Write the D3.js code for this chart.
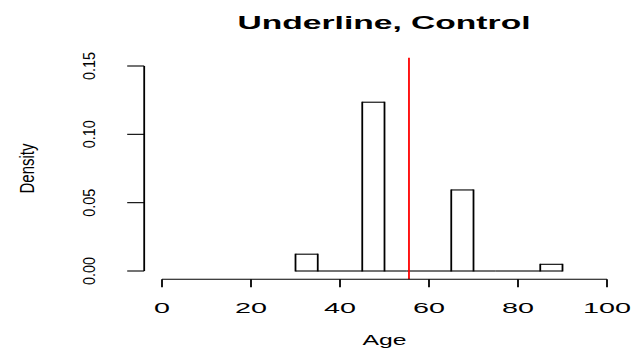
<!DOCTYPE html>
<html>
<head>
<meta charset="utf-8">
<script src="https://cdn.jsdelivr.net/npm/d3@7.9.0/dist/d3.min.js"></script>
<style>
  html, body { margin: 0; padding: 0; background: #fff; }
  text { font-family: "Liberation Sans", Arial, Helvetica, sans-serif; fill: #000; }
</style>
</head>
<body>
<svg id="chart" width="633" height="351"></svg>
<script>
// -------------------------
// Data
// -------------------------
const binStarts = [30, 35, 40, 45, 50, 55, 60, 65, 70, 75, 80, 85];
const binWidth = 5;
const densities = [0.0123, 0, 0, 0.1235, 0, 0, 0, 0.0593, 0, 0, 0, 0.0049];
const xTicks = [0, 20, 40, 60, 80, 100];
const yTicks = [0, 0.05, 0.10, 0.15];
const yTickLabels = ['0.00', '0.05', '0.10', '0.15'];
const meanAge = 55.5;
const title = 'Underline, Control';

// -------------------------
// Scales (plot region extends 4% past the limits, like R)
// -------------------------
const x = d3.scaleLinear().domain([0, 100]).range([162, 607]);
const y = d3.scaleLinear().domain([0, 0.15]).range([271, 66]);
const yLo = -0.006, yHi = 0.156;   // extended y limits
const xLo = -4;                    // extended x limit

const svg = d3.select('#chart');

// Title
svg.append('text')
  .attr('x', 384).attr('y', 28.5)
  .attr('text-anchor', 'middle')
  .attr('font-size', 19).attr('font-weight', 'bold')
  .attr('textLength', 293).attr('lengthAdjust', 'spacingAndGlyphs')
  .text(title);

// Histogram bars: thin horizontal edges, thicker vertical edges (stretched picture)
const bars = svg.append('g');
binStarts.forEach((b, i) => {
  const x0 = x(b), x1 = x(b + binWidth), y0 = y(0), y1 = y(densities[i]);
  bars.append('line')
    .attr('x1', x0).attr('x2', x1).attr('y1', y0).attr('y2', y0)
    .attr('stroke', '#000').attr('stroke-width', 1.1);
  if (densities[i] > 0) {
    bars.append('line')
      .attr('x1', x0).attr('x2', x1).attr('y1', y1).attr('y2', y1)
      .attr('stroke', '#000').attr('stroke-width', 1.1);
    [x0, x1].forEach(xx => {
      bars.append('line')
        .attr('x1', xx).attr('x2', xx).attr('y1', y0 + 0.5).attr('y2', y1 - 0.5)
        .attr('stroke', '#000').attr('stroke-width', 1.8);
    });
  }
});

// Mean line
svg.append('line')
  .attr('x1', x(meanAge)).attr('x2', x(meanAge))
  .attr('y1', y(yHi)).attr('y2', y(yLo))
  .attr('stroke', '#ff0000').attr('stroke-width', 1.8);

// X axis
const xAxisY = y(yLo);
const xg = svg.append('g');
xg.append('line')
  .attr('x1', x(0)).attr('x2', x(100)).attr('y1', xAxisY).attr('y2', xAxisY)
  .attr('stroke', '#000').attr('stroke-width', 1.1);
xTicks.forEach(t => {
  xg.append('line')
    .attr('x1', x(t)).attr('x2', x(t)).attr('y1', xAxisY).attr('y2', xAxisY + 8)
    .attr('stroke', '#000').attr('stroke-width', 1.8);
  const s = String(t);
  xg.append('text')
    .attr('x', x(t)).attr('y', 313)
    .attr('text-anchor', 'middle').attr('font-size', 14)
    .attr('textLength', s.length * 16).attr('lengthAdjust', 'spacingAndGlyphs')
    .text(s);
});
svg.append('text')
  .attr('x', (x(0) + x(100)) / 2).attr('y', 345)
  .attr('text-anchor', 'middle').attr('font-size', 14)
  .attr('textLength', 44).attr('lengthAdjust', 'spacingAndGlyphs')
  .text('Age');

// Y axis
const yAxisX = x(xLo);
const yg = svg.append('g');
yg.append('line')
  .attr('x1', yAxisX).attr('x2', yAxisX).attr('y1', y(0)).attr('y2', y(0.15))
  .attr('stroke', '#000').attr('stroke-width', 1.8);
yTicks.forEach((t, i) => {
  yg.append('line')
    .attr('x1', yAxisX - 17).attr('x2', yAxisX).attr('y1', y(t)).attr('y2', y(t))
    .attr('stroke', '#000').attr('stroke-width', 1.1);
  yg.append('text')
    .attr('transform', `translate(94.5,${y(t)}) rotate(-90)`)
    .attr('text-anchor', 'middle').attr('font-size', 16.5)
    .attr('textLength', 28).attr('lengthAdjust', 'spacingAndGlyphs')
    .text(yTickLabels[i]);
});
svg.append('text')
  .attr('transform', `translate(34,${(y(0) + y(0.15)) / 2}) rotate(-90)`)
  .attr('text-anchor', 'middle').attr('font-size', 21)
  .attr('textLength', 50).attr('lengthAdjust', 'spacingAndGlyphs')
  .text('Density');
</script>
</body>
</html>
